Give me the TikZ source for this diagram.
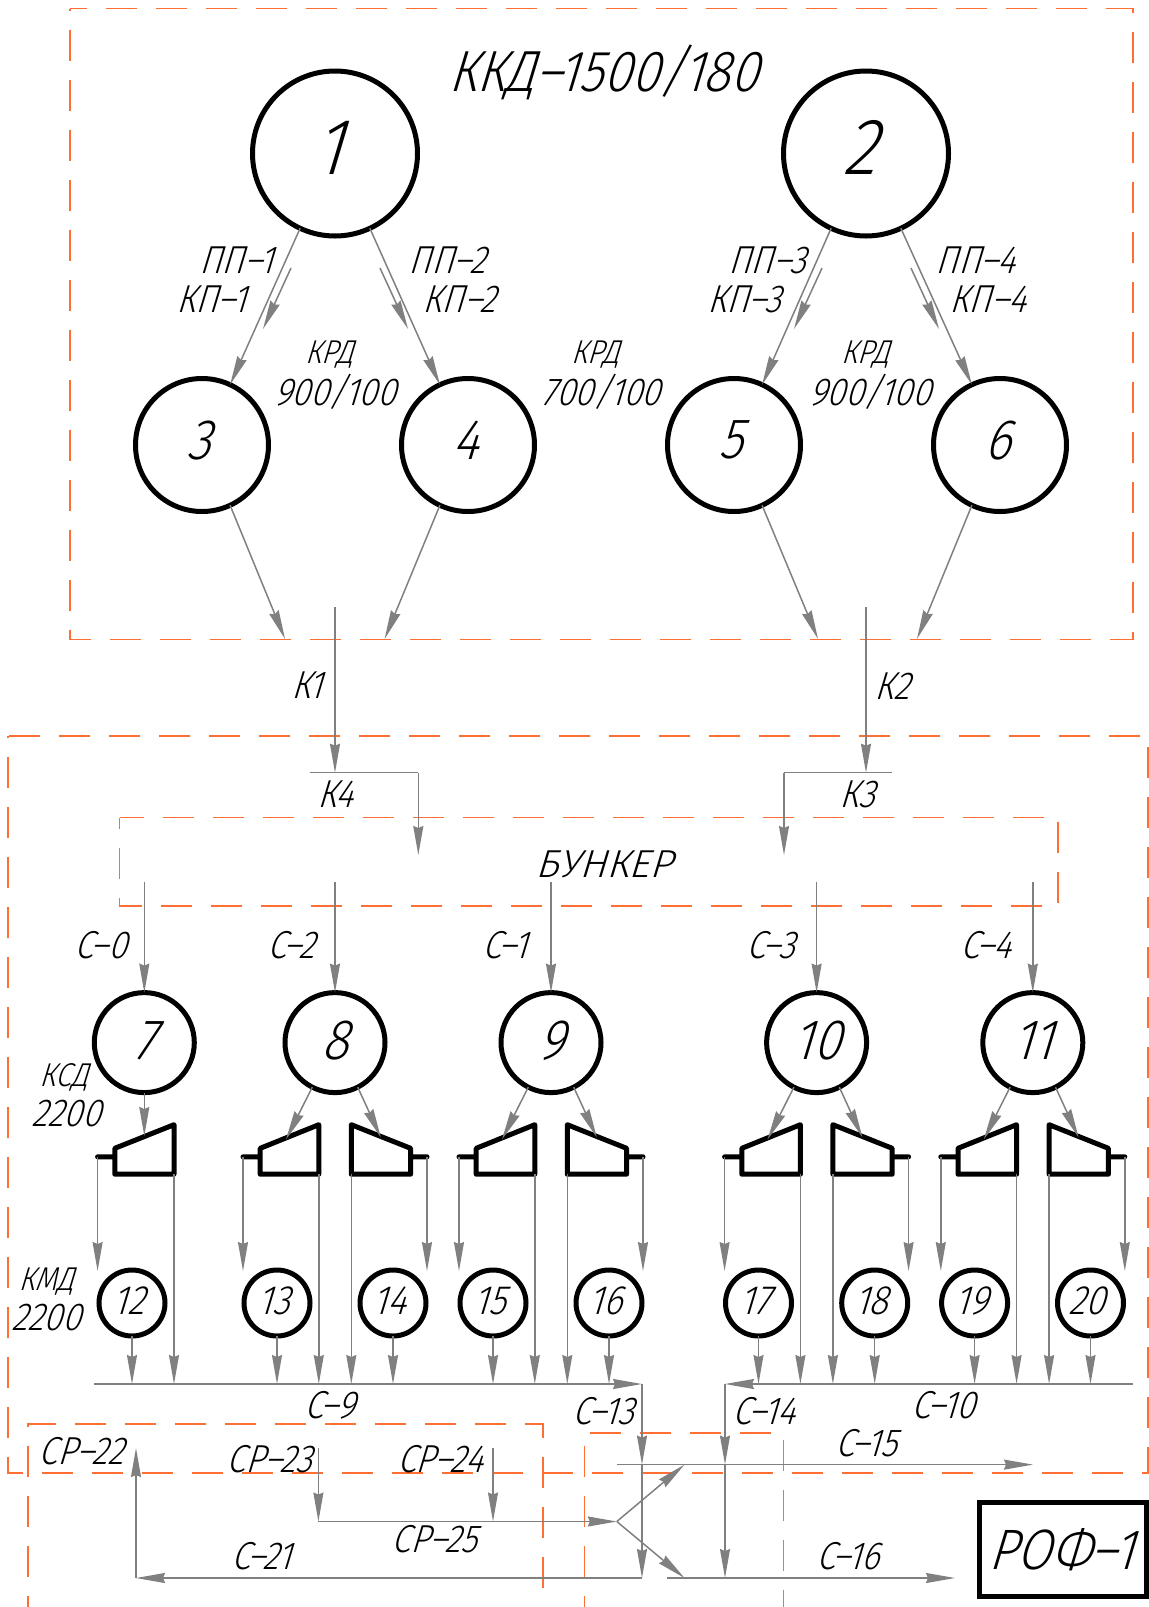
\documentclass[tikz,border=0pt]{standalone}
\usepackage{fontspec}
\usepackage{xcolor}
\usepackage{tikz}
\usetikzlibrary{arrows.meta}
\newfontfamily\drawfont[FakeSlant=0.3,FakeStretch=0.87]{Fira Sans Light}
\definecolor{flowc}{HTML}{808080}
\definecolor{zonec}{HTML}{FF6E32}
\tikzset{
  ar/.style={-{Stealth[length=29pt,width=10pt,inset=2pt]},line width=1.5pt,flowc},
  ln/.style={line width=1.5pt,flowc},
  zone/.style={line width=1.7pt,zonec,dash pattern=on 31pt off 19pt},
  crush/.style={line width=5pt,black,line join=round,line cap=round},
  nd/.style={circle,draw=black,line width=5pt,inner sep=0pt,outer sep=0pt,font=\drawfont\fontsize{#1}{#1}\selectfont},
  ndA/.style={nd=80,minimum size=165pt,text depth=12pt,execute at end node={\kern14pt}},
  ndB/.style={nd=57,minimum size=133pt,text depth=10pt,execute at end node={\kern6pt}},
  ndC/.style={nd=57,minimum size=100pt,text depth=4pt},
  ndD/.style={nd=41,minimum size=66pt,text depth=5pt,execute at end node={\kern7pt}},
  lab/.style={inner sep=0pt,text depth=0pt,xshift=-4pt,font=\drawfont\fontsize{39}{39}\selectfont},
  labs/.style={inner sep=0pt,text depth=0pt,xshift=-3pt,font=\drawfont\fontsize{33}{33}\selectfont},
  labl/.style={inner sep=0pt,text depth=0pt,xshift=-5pt,font=\drawfont\fontsize{58}{58}\selectfont}
}
\begin{document}
\begin{tikzpicture}[x=1pt,y=-1pt]
\useasboundingbox (0,0) rectangle (1149,1607);
% zones
\draw[zone,dash phase=29] (70,8.5) rectangle (1133,639.5);
\draw[zone,dash phase=29] (8,736) rectangle (1148,1472.7);
\draw[zone,dash phase=20] (119.5,817.5) rectangle (1058,906);
\draw[zone,dash phase=20] (28,1607) -- (28,1424.3) -- (542.7,1424.3) -- (542.7,1607);
\draw[zone,dash phase=20] (584.4,1607) -- (584.4,1432.8) -- (783.4,1432.8) -- (783.4,1607);
% crushers
\node[ndA] (n1) at (335,153.5) {1};
\node[ndA] (n2) at (866,153.5) {2};
\foreach \n/\cx in {3/202,4/468,5/734,6/1000}
  \node[ndB] (n\n) at (\cx,445) {\n};
\foreach \n/\cx in {7/144.3,8/335,9/551,10/816.6,11/1032.8}
  \node[ndC] (n\n) at (\cx,1042.6) {\n};
\foreach \n/\cx in {12/132,13/277,14/393,15/493,16/609,17/758.5,18/874.7,19/974.6,20/1090.5}
  \node[ndD] (n\n) at (\cx,1303) {\n};
% bus ends
\coordinate (busL) at (94,1384);
\coordinate (busR) at (1132.5,1384);
\coordinate (jA) at (642,1384);
\coordinate (jB) at (642,1464.6);
\coordinate (jC) at (642,1578);
\coordinate (jD) at (136,1578);
\coordinate (jE) at (136,1448);
\coordinate (jF) at (725,1384);
\coordinate (jG) at (725,1464.6);
\coordinate (jH) at (725,1578);
\coordinate (fork) at (616.8,1521.5);
\coordinate (upEnd) at (684.5,1464.6);
\coordinate (downEnd) at (684.5,1578);
\coordinate (s15a) at (616.8,1464.6);
\coordinate (s15b) at (1033,1464.6);
\coordinate (s16a) at (666.5,1578);
\coordinate (s16b) at (955,1578);
\coordinate (s23a) at (318.4,1448);
\coordinate (s23b) at (318.4,1521.5);
\coordinate (s24a) at (493,1448);
\coordinate (s24b) at (493,1521.5);
% upper stage
\draw[ar] (n1.245) -- (n3.65);
\draw[ar] (n1.295) -- (n4.115);
\draw[ar] (n2.245) -- (n5.65);
\draw[ar] (n2.295) -- (n6.115);
\foreach \dx/\m in {0/a,531/b}{
  \coordinate (pa\m) at (291+\dx,268);
  \coordinate (pb\m) at (263+\dx,329);
  \coordinate (qa\m) at (380+\dx,268);
  \coordinate (qb\m) at (408+\dx,329);
  \draw[ar] (pa\m) -- (pb\m);
  \draw[ar] (qa\m) -- (qb\m);
}
\coordinate (t3) at (285,639);
\coordinate (t4) at (384.6,639);
\coordinate (t5) at (818,639);
\coordinate (t6) at (917,639);
\draw[ar] (n3.295) -- (t3);
\draw[ar] (n4.245) -- (t4);
\draw[ar] (n5.295) -- (t5);
\draw[ar] (n6.245) -- (t6);
% conveyors to the bunker
\coordinate (k1a) at (335,607);
\coordinate (k1b) at (335,772.7);
\coordinate (k1c) at (309.6,772.7);
\coordinate (k1d) at (418.3,772.7);
\coordinate (k1e) at (418.3,855);
\coordinate (k2a) at (866,607);
\coordinate (k2b) at (866,772.7);
\coordinate (k2c) at (892,772.7);
\coordinate (k2d) at (784,772.7);
\coordinate (k2e) at (784,855);
\draw[ar] (k1a) -- (k1b);
\draw[ln] (k1c) -- (k1d);
\draw[ar] (k1d) -- (k1e);
\draw[ar] (k2a) -- (k2b);
\draw[ln] (k2c) -- (k2d);
\draw[ar] (k2d) -- (k2e);
\foreach \n in {7,8,9,10,11}
  \draw[ar] (n\n.center |- 0,881.7) -- (n\n.north);
% crusher 7
\draw[crush] (114.8,1148.3) -- (174,1124.7) -- (174,1174.2) -- (114.8,1174.2) -- cycle (114.8,1156.8) -- (97.6,1156.8);
\coordinate (t7) at (144.3,1136);
\draw[ar] (n7.south) -- (t7);
\coordinate (o7a) at (97.6,1156.8);
\coordinate (o7b) at (97.6,1271);
\coordinate (o7c) at (174,1174.2);
\coordinate (o7d) at (174,1384);
\draw[ar] (o7a) -- (o7b);
\draw[ar] (o7c) -- (o7d);
\draw[ar] (n12.south) -- (n12.south |- busL);
% crushers 8 to 11
\foreach \n/\cx/\sa/\sb in {8/335/13/14,9/551/15/16,10/816.6/17/18,11/1032.8/19/20}{
  \draw[crush] (\cx-74.8,1148.3) -- (\cx-16.2,1124.7) -- (\cx-16.2,1174.2) -- (\cx-74.8,1174.2) -- cycle (\cx-74.8,1156.8) -- (\cx-92,1156.8);
  \draw[crush] (\cx+75.6,1148.3) -- (\cx+16.3,1124.7) -- (\cx+16.3,1174.2) -- (\cx+75.6,1174.2) -- cycle (\cx+75.6,1156.8) -- (\cx+92,1156.8);
  \coordinate (tl\n) at (\cx-49,1139.4);
  \coordinate (tr\n) at (\cx+45.8,1137.4);
  \draw[ar] (n\n.243) -- (tl\n);
  \draw[ar] (n\n.297) -- (tr\n);
  \coordinate (ol\n) at (\cx-92,1156.8);
  \coordinate (or\n) at (\cx+92,1156.8);
  \draw[ar] (ol\n) -- (ol\n |- 0,1271);
  \draw[ar] (or\n) -- (or\n |- 0,1271);
  \coordinate (il\n) at (\cx-16.2,1174.2);
  \coordinate (ir\n) at (\cx+16.3,1174.2);
  \draw[ar] (il\n) -- (il\n |- busL);
  \draw[ar] (ir\n) -- (ir\n |- busL);
  \draw[ar] (n\sa.south) -- (n\sa.south |- busL);
  \draw[ar] (n\sb.south) -- (n\sb.south |- busL);
}
% bottom lines
\draw[ar] (busL) -- (jA);
\draw[ar] (jA) -- (jB);
\draw[ar] (jB) -- (jC);
\draw[ar] (jC) -- (jD);
\draw[ar] (jD) -- (jE);
\draw[ar] (busR) -- (jF);
\draw[ar] (jF) -- (jG);
\draw[ar] (jG) -- (jH);
\draw[ar] (s15a) -- (s15b);
\draw[ar] (s16a) -- (s16b);
\draw[ar] (s23a) -- (s23b);
\draw[ar] (s24a) -- (s24b);
\draw[ar] (s23b) -- (fork);
\draw[ar] (fork) -- (upEnd);
\draw[ar] (fork) -- (downEnd);
% texts
\node[labl] (title) at (608,68) {ККД–1500/180};
\node[lab] (pp1) at (240.5,260) {ПП–1};
\node[lab] (kp1) at (215.5,299) {КП–1};
\node[lab] (pp2) at (451,260) {ПП–2};
\node[lab] (kp2) at (463.5,299) {КП–2};
\node[lab] (pp3) at (771,260) {ПП–3};
\node[lab] (kp3) at (748,299) {КП–3};
\node[lab] (pp4) at (979.5,260) {ПП–4};
\node[lab] (kp4) at (992,299) {КП–4};
\node[labs] (krd1) at (332,352) {КРД};
\node[lab] (krdA) at (339,390) {900/100};
\node[labs] (krd2) at (598,352) {КРД};
\node[lab] (krdB) at (605,390) {700/100};
\node[labs] (krd3) at (868,352) {КРД};
\node[lab] (krdC) at (874,390) {900/100};
\node[lab] (lk1) at (311,685) {К1};
\node[lab] (lk2) at (896,686) {К2};
\node[lab] (lk4) at (339,794) {К4};
\node[lab] (lk3) at (861,794) {К3};
\node[lab] (bunk) at (608,864) {\addfontfeature{FakeStretch=1.03}БУНКЕР};
\node[lab] (s0) at (105,945) {С–0};
\node[lab] (s2) at (295,945) {С–2};
\node[lab] (s1) at (509,945) {С–1};
\node[lab] (s3) at (775,945) {С–3};
\node[lab] (s4) at (990,945) {С–4};
\node[labs] (ksd) at (66.5,1074.7) {КСД};
\node[lab] (ksdn) at (70,1113) {2200};
\node[labs] (kmd) at (49,1279) {КМД};
\node[lab] (kmdn) at (50,1317.5) {2200};
\node[lab] (s9) at (333.5,1404.6) {С–9};
\node[lab] (s13) at (607,1411) {С–13};
\node[lab] (s14) at (768,1411) {С–14};
\node[lab] (s10) at (947,1404.6) {С–10};
\node[lab] (s15) at (870,1442.5) {С–15};
\node[lab] (s16) at (852,1555.5) {С–16};
\node[lab] (s21) at (265.5,1555.5) {С–21};
\node[lab] (sr22) at (85.5,1451) {СР–22};
\node[lab] (sr23) at (273.5,1459) {СР–23};
\node[lab] (sr24) at (444,1459) {СР–24};
\node[lab] (sr25) at (438.5,1539) {СР–25};
\node[draw=black,line width=5pt,inner sep=0pt,minimum width=167pt,minimum height=94.5pt,font=\drawfont\fontsize{57}{57}\selectfont,execute at end node={\kern4pt}] (rof) at (1063,1549.7) {РОФ–1};
\end{tikzpicture}
\end{document}
